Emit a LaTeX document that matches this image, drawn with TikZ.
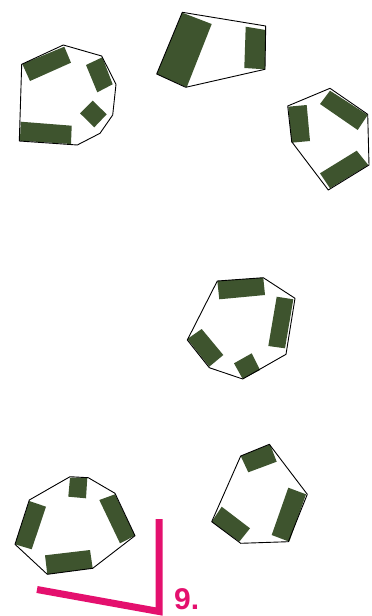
\documentclass[tikz,border=0pt]{standalone}
\usepackage{fontspec}
\setmainfont{Liberation Sans}
\definecolor{blockgreen}{RGB}{62,84,46}
\definecolor{accentpink}{RGB}{228,16,110}
\tikzset{
  blk/.style={fill=blockgreen, draw=none},
  outline/.style={draw=black, line width=0.9pt, line join=round},
  marker/.style={draw=accentpink, line width=7pt, line join=miter},
}
\begin{document}
\begin{tikzpicture}[x=1pt,y=-1pt]
\useasboundingbox (0,0) rectangle (372,616);
% ---- polygon 1 (top left)
\fill[blk] (22.3,64) -- (64.3,46.7) -- (71,62.7) -- (30,81) -- cycle;
\fill[blk] (86,65) -- (102.3,57.3) -- (112.7,84.3) -- (97.3,92.3) -- cycle;
\fill[blk] (80,113.3) -- (92.7,100.7) -- (106.7,114.3) -- (94.3,127.3) -- cycle;
\fill[blk] (20.7,121.7) -- (71.7,125.7) -- (71,144) -- (20,140.7) -- cycle;
\draw[outline] (21.7,64.3) -- (63.3,45) -- (101.7,56) -- (116,84.3) -- (112.7,115) -- (100,133.3) -- (77.3,145) -- (19.3,141) -- cycle;
% ---- polygon 2 (top middle)
\fill[blk] (182.3,12.7) -- (211.7,24) -- (186.7,87.3) -- (156.7,74) -- cycle;
\fill[blk] (245.7,26.7) -- (265.7,30) -- (265,69.3) -- (244.3,68) -- cycle;
\draw[outline] (182.3,12.3) -- (265.7,26) -- (265,69.3) -- (185.7,87.3) -- (156.7,74) -- cycle;
% ---- polygon 3 (right)
\fill[blk] (288.3,106.7) -- (306.7,105) -- (310,141) -- (291.7,142.7) -- cycle;
\fill[blk] (320,104) -- (330,90.7) -- (367.7,115) -- (357.7,130) -- cycle;
\fill[blk] (320,173.3) -- (356.7,150.7) -- (368.3,165) -- (330,188.3) -- cycle;
\draw[outline] (287.7,106) -- (330,88.3) -- (367.7,114.3) -- (369,165) -- (328.3,190) -- (291.7,141.7) -- cycle;
% ---- polygon 4 (middle)
\fill[blk] (217.3,281) -- (263.3,277.7) -- (265,295) -- (219.3,299.3) -- cycle;
\fill[blk] (276.7,296.7) -- (293.3,299.3) -- (285,348.3) -- (268.3,346) -- cycle;
\fill[blk] (187.3,339) -- (201.7,329) -- (223.3,355) -- (209.3,366.7) -- cycle;
\fill[blk] (234,363.3) -- (251.7,353.3) -- (260,370) -- (242.7,379) -- cycle;
\draw[outline] (217.3,281) -- (263.3,277.7) -- (295,298.3) -- (286,354.3) -- (242.7,379) -- (209.3,367.7) -- (187.3,340) -- cycle;
% ---- polygon 5 (lower right)
\fill[blk] (240.7,456) -- (270,444.3) -- (276.7,461.7) -- (248.3,472.3) -- cycle;
\fill[blk] (288.3,487.7) -- (306,494.3) -- (289.3,541.7) -- (271.7,535) -- cycle;
\fill[blk] (211.7,521.7) -- (221.7,506.7) -- (250,528.3) -- (239.3,541.7) -- cycle;
\draw[outline] (240.7,456) -- (269.3,444.3) -- (307.3,494.3) -- (288.3,541.7) -- (240.7,543.3) -- (211.7,521.7) -- cycle;
% ---- polygon 6 (lower left)
\fill[blk] (70,477.7) -- (87.3,477.7) -- (86,498.3) -- (68.3,496.7) -- cycle;
\fill[blk] (99.3,500) -- (115,494.3) -- (135,535.7) -- (120,543.3) -- cycle;
\fill[blk] (15,544.3) -- (29.3,501) -- (46,506.7) -- (31.7,549.3) -- cycle;
\fill[blk] (45,555.3) -- (90,550) -- (92.7,568.3) -- (47.3,574.3) -- cycle;
\draw[outline] (29.3,500) -- (70,476.7) -- (88.3,477.7) -- (115,493.3) -- (135,535.7) -- (92.7,568.3) -- (47.3,574.3) -- (15,544.3) -- cycle;
% ---- pink corner marker and label
\coordinate (mstart) at (37,589.5);
\coordinate (mcorner) at (159,611.5);
\coordinate (mtop) at (159,519);
\draw[marker] (mstart) -- (mcorner) -- (mtop);
\node[anchor=base west, inner sep=0pt, text=accentpink, font=\bfseries\fontsize{30}{30}\selectfont] (label) at (174,609) {9.};
\end{tikzpicture}
\end{document}
